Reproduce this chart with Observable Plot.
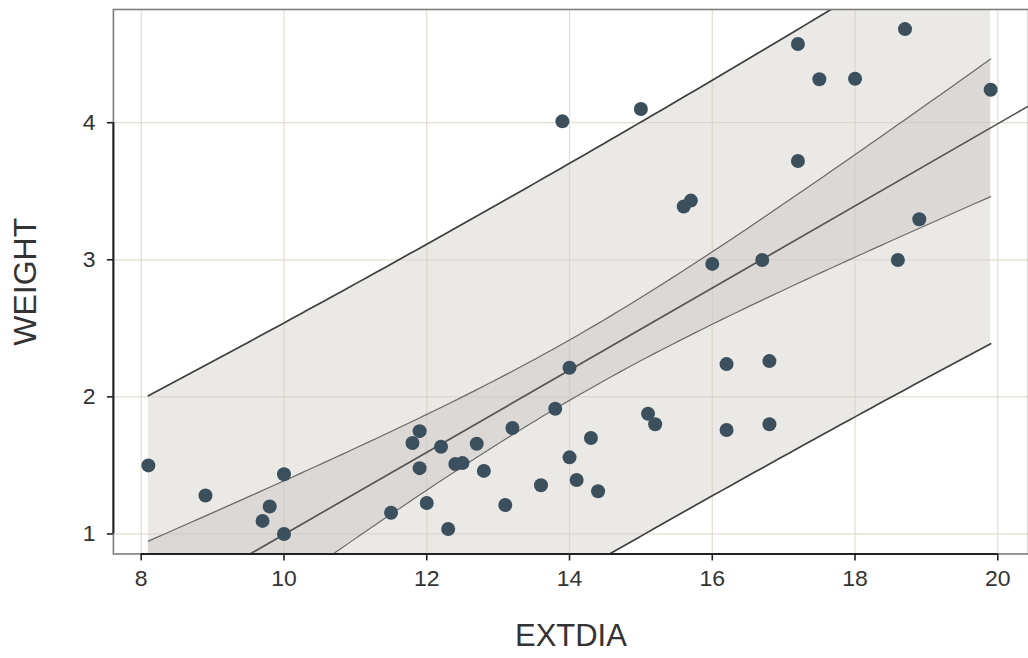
<!DOCTYPE html>
<html><head><meta charset="utf-8">
<script src="https://cdn.jsdelivr.net/npm/d3@7"></script>
<script src="https://cdn.jsdelivr.net/npm/@observablehq/plot@0.6"></script>
<style>
html,body{margin:0;padding:0;background:#fff;overflow:hidden}
g[aria-label="x-axis tick label"], g[aria-label="y-axis tick label"]{font-size:23px !important}
</style>
</head><body><div id="chart"></div>
<script>
// Data
const extdia = [8.1, 8.9, 9.7, 9.8, 10.0, 10.0, 11.5, 11.8, 11.9, 11.9, 12.0, 12.2, 12.3, 12.4, 12.5, 12.7, 12.8, 13.1, 13.2, 13.6, 13.8, 14.0, 14.0, 14.1, 14.3, 14.4, 15.1, 15.2, 16.2, 16.2, 16.8, 16.8, 13.9, 15.0, 17.2, 17.5, 18.0, 18.7, 19.9, 17.2, 15.6, 15.7, 16.0, 16.7, 18.6, 18.9];
const weight = [1.50, 1.28, 1.095, 1.20, 1.435, 1.00, 1.155, 1.663, 1.75, 1.48, 1.226, 1.636, 1.036, 1.51, 1.517, 1.658, 1.46, 1.211, 1.773, 1.355, 1.913, 2.212, 1.559, 1.394, 1.70, 1.311, 1.877, 1.80, 2.239, 1.758, 2.261, 1.80, 4.01, 4.10, 4.574, 4.317, 4.321, 4.683, 4.241, 3.721, 3.389, 3.432, 2.97, 2.999, 2.999, 3.296];
const xTicks = [8, 10, 12, 14, 16, 18, 20];
const yTicks = [1, 2, 3, 4];
const xLabel = "EXTDIA";
const yLabel = "WEIGHT";
const xDomain = [7.61, 20.43];
const yDomain = [0.854, 4.826];
const tCrit = 2.0154; // t(0.975, df = n - 2 = 44)

// Linear fit with 95% confidence and prediction intervals
const n = extdia.length;
const mx = d3.mean(extdia), my = d3.mean(weight);
const sxx = d3.sum(extdia, x => (x - mx) ** 2);
const sxy = d3.sum(extdia, (x, i) => (x - mx) * (weight[i] - my));
const b = sxy / sxx, a = my - b * mx;
const s = Math.sqrt(d3.sum(extdia, (x, i) => (weight[i] - a - b * x) ** 2) / (n - 2));
const [xmin, xmax] = d3.extent(extdia);
const band = d3.range(0, 101).map(k => {
  const x = xmin + (xmax - xmin) * k / 100;
  const yh = a + b * x, d = (x - mx) ** 2 / sxx;
  const ci = tCrit * s * Math.sqrt(1 / n + d);
  const pi = tCrit * s * Math.sqrt(1 + 1 / n + d);
  return {x, yh, ciLo: yh - ci, ciHi: yh + ci, piLo: yh - pi, piHi: yh + pi};
});
const fit = xDomain.map(x => ({x, y: a + b * x}));
const pts = extdia.map((x, i) => ({x, y: weight[i]}));

const chart = Plot.plot({
  width: 1029,
  height: 658,
  marginLeft: 113,
  marginRight: 0,
  marginTop: 9,
  marginBottom: 104,
  style: {fontFamily: "'Liberation Sans', Arial, sans-serif", fontSize: "23px", color: "#333", background: "#fff"},
  x: {domain: xDomain},
  y: {domain: yDomain},
  marks: [
    Plot.gridX(xTicks, {stroke: "#e2ddcf", strokeOpacity: 1, strokeWidth: 1.2}),
    Plot.gridY(yTicks, {stroke: "#e2ddcf", strokeOpacity: 1, strokeWidth: 1.2}),
    Plot.areaY(band, {x: "x", y1: "piLo", y2: "piHi", fill: "#d3cec7", fillOpacity: 0.45, clip: true}),
    Plot.areaY(band, {x: "x", y1: "ciLo", y2: "ciHi", fill: "#cac3c0", fillOpacity: 0.45, clip: true}),
    Plot.line(band, {x: "x", y: "piHi", stroke: "#3f3f3f", strokeWidth: 1.7, clip: true}),
    Plot.line(band, {x: "x", y: "piLo", stroke: "#3f3f3f", strokeWidth: 1.7, clip: true}),
    Plot.line(band, {x: "x", y: "ciHi", stroke: "#6a6a6a", strokeWidth: 1.2, clip: true}),
    Plot.line(band, {x: "x", y: "ciLo", stroke: "#6a6a6a", strokeWidth: 1.2, clip: true}),
    Plot.line(fit, {x: "x", y: "y", stroke: "#555", strokeWidth: 1.7, clip: true}),
    Plot.dot(pts, {x: "x", y: "y", r: 7, fill: "#3b505c", stroke: "none"}),
    Plot.frame({stroke: "#7d7d7d", strokeWidth: 1.6}),
    Plot.ruleY([yDomain[0]], {x1: xTicks[0], x2: xTicks[xTicks.length - 1], stroke: "#222", strokeWidth: 2}),
    Plot.ruleX([xDomain[0]], {y1: yTicks[0], y2: yTicks[yTicks.length - 1], stroke: "#222", strokeWidth: 2}),
    Plot.axisX(xTicks, {tickSize: 7, tickPadding: 9, stroke: "#222", strokeWidth: 1.6, fontSize: 23, tickFormat: d3.format("d"), label: null, fill: "#333"}),
    Plot.axisY(yTicks, {tickSize: 6, tickPadding: 12, stroke: "#222", strokeWidth: 1.6, fontSize: 23, tickFormat: d3.format("d"), label: null, fill: "#333"}),
    Plot.text([xLabel], {frameAnchor: "bottom", textAnchor: "middle", lineAnchor: "middle", dy: 82, fontSize: 31, fill: "#333"}),
    Plot.text([yLabel], {frameAnchor: "left", textAnchor: "middle", lineAnchor: "middle", rotate: -90, dx: -88, fontSize: 32, fill: "#333"})
  ]
});
document.getElementById("chart").appendChild(chart);
</script>
</body></html>
